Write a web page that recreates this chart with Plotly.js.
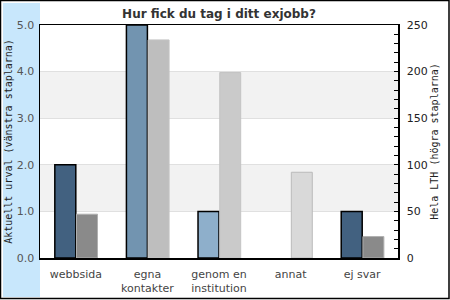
<!DOCTYPE html>
<html>
<head>
<meta charset="utf-8">
<script src="https://cdn.plot.ly/plotly-3.0.1.min.js"></script>
<style>
html,body{margin:0;padding:0;background:#fff;}
#chart{width:450px;height:300px;}
</style>
</head>
<body>
<div id="chart"></div>
<script>
const categories = ['webbsida', 'egna<br>kontakter', 'genom en<br>institution', 'annat', 'ej svar'];
const currentValues = [2, 5, 1, 0, 1];      // left axis: Aktuellt urval
const lthValues = [47, 234, 199, 92, 23];   // right axis: Hela LTH
const currentColors = ['#426180', '#7294b0', '#8eafcb', '#8eafcb', '#426180'];
const lthColors = ['#8a8a8a', '#bebebe', '#cacaca', '#d9d9d9', '#8a8a8a'];
const lthLineColors = ['#b0b0b0', '#c4c4c4', '#c4c4c4', '#bbbbbb', '#b0b0b0'];
const leftTicks = [0, 1, 2, 3, 4, 5];
const rightTicks = [0, 50, 100, 150, 200, 250];
const bands = [[1, 2], [3, 4]];

const barW = 0.293;
const traces = [
  {
    type: 'bar', x: categories, y: currentValues, yaxis: 'y',
    width: barW, offset: -barW,
    marker: {color: currentColors, line: {color: '#000', width: currentValues.map(v => v > 0 ? 1.5 : 0)}},
    hoverinfo: 'skip'
  },
  {
    type: 'bar', x: categories, y: lthValues, yaxis: 'y2',
    width: barW, offset: 0.01,
    marker: {color: lthColors, line: {color: lthLineColors, width: 1}},
    hoverinfo: 'skip'
  }
];

const shapes = bands.map(b => ({
  type: 'rect', xref: 'paper', yref: 'y', x0: 0, x1: 1, y0: b[0], y1: b[1],
  fillcolor: '#f2f2f2', line: {width: 0}, layer: 'below'
}));
// light blue strip on the left
shapes.push({type: 'rect', xref: 'paper', yref: 'paper',
  x0: -37/358, x1: 0, y0: -39/233, y1: 255/233,
  fillcolor: '#c8e7fc', line: {width: 0}, layer: 'below'});
// outer frame
shapes.push({type: 'rect', xref: 'paper', yref: 'paper',
  x0: -39.5/358, x1: 409/358, y0: -40.5/233, y1: 257.5/233,
  fillcolor: 'rgba(0,0,0,0)', line: {color: '#000', width: 1.5}, layer: 'above'});

const layout = {
  width: 450, height: 300,
  margin: {l: 40, r: 52, t: 25, b: 42},
  paper_bgcolor: '#fff', plot_bgcolor: '#fff',
  showlegend: false,
  barmode: 'overlay',
  title: {text: 'Hur fick du tag i ditt exjobb?', x: 0.5, xref: 'paper', y: 0.955, yanchor: 'middle',
    font: {family: 'DejaVu Sans', size: 12, color: '#333', weight: 'bold'}},
  xaxis: {
    type: 'category', showline: true, linecolor: '#000', linewidth: 1.5, mirror: true,
    ticks: '', showgrid: false, zeroline: false, ticklabelstandoff: 5,
    tickfont: {family: 'DejaVu Sans', size: 11, color: '#444'}
  },
  yaxis: {
    range: [0, 5], tickvals: leftTicks, tickformat: '.1f',
    showline: true, linecolor: '#000', linewidth: 1.5,
    showgrid: true, gridcolor: '#e0e0e0', gridwidth: 1, zeroline: false, ticks: '',
    ticklabelstandoff: 2,
    tickfont: {family: 'DejaVu Sans', size: 11, color: '#555'},
    title: {text: 'Aktuellt urval (vänstra staplarna)', standoff: 2,
      font: {family: 'DejaVu Sans Mono', size: 10, color: '#222'}}
  },
  yaxis2: {
    overlaying: 'y', side: 'right', range: [0, 250], tickvals: rightTicks,
    showline: true, linecolor: '#000', linewidth: 1.5, showgrid: false, zeroline: false,
    ticks: 'inside', ticklen: 4, tickcolor: '#000', ticklabelstandoff: 5,
    minor: {dtick: 10, ticks: 'inside', ticklen: 4, tickcolor: '#000'},
    tickfont: {family: 'DejaVu Sans', size: 11, color: '#222'},
    title: {text: 'Hela LTH (högra staplarna)', standoff: 4,
      font: {family: 'DejaVu Sans Mono', size: 10, color: '#222'}}
  },
  shapes: shapes
};

Plotly.newPlot('chart', traces, layout, {staticPlot: true, displayModeBar: false});
</script>
</body>
</html>
